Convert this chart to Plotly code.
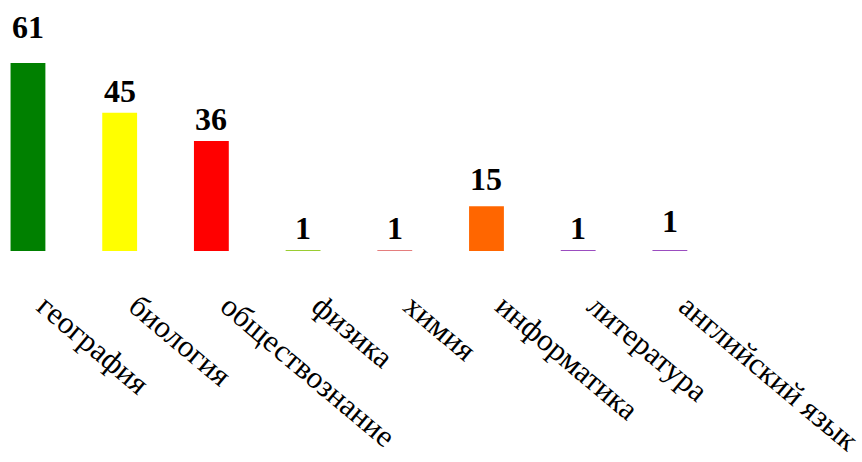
import plotly.graph_objects as go

categories = ["география", "биология", "обществознание", "физика", "химия",
              "информатика", "литература", "английский язык"]
values = [61, 45, 36, 1, 1, 15, 1, 1]
colors = ["#008000", "#FFFF00", "#FF0000", "#9ACD32", "#E57E7E",
          "#FF6600", "#9B4DC0", "#9B4DC0"]
label_shift = [16, 2, 2, 2, 2, 7, 2, 9]

X0, X1 = -0.305, 9.095
LABEL_OFFSET = 0.185

fig = go.Figure(go.Bar(
    x=categories, y=values, marker=dict(color=colors, line=dict(width=0)),
    width=0.38, hoverinfo="skip",
))
# invisible trace carrying the category tick labels on an overlay axis
fig.add_trace(go.Scatter(x=categories, y=values, xaxis="x2", mode="markers",
                         marker=dict(opacity=0), hoverinfo="skip"))

for c, v, s in zip(categories, values, label_shift):
    fig.add_annotation(x=c, y=v, text="<b>%d</b>" % v, showarrow=False,
                       yanchor="bottom", yshift=s,
                       font=dict(family="Liberation Serif", size=32, color="black"))

fig.update_layout(
    width=862, height=462,
    margin=dict(l=0, r=0, t=0, b=211, autoexpand=False),
    plot_bgcolor="white", paper_bgcolor="white",
    showlegend=False,
    xaxis=dict(range=[X0, X1], showticklabels=False, showline=False, showgrid=False,
               zeroline=False, ticks=""),
    xaxis2=dict(range=[X0 - LABEL_OFFSET, X1 - LABEL_OFFSET], overlaying="x", anchor="y",
                side="bottom", type="category", categoryarray=categories,
                tickangle=40, showline=False, showgrid=False, zeroline=False, ticks="",
                ticklabelstandoff=30,
                tickfont=dict(family="Liberation Serif", size=31, color="black")),
    yaxis=dict(range=[0.67, 81.2], visible=False, showgrid=False, zeroline=False),
)

fig.write_html("out.html", config={"displayModeBar": False},
               post_script="document.body.style.margin='0';document.body.style.overflow='hidden';")
